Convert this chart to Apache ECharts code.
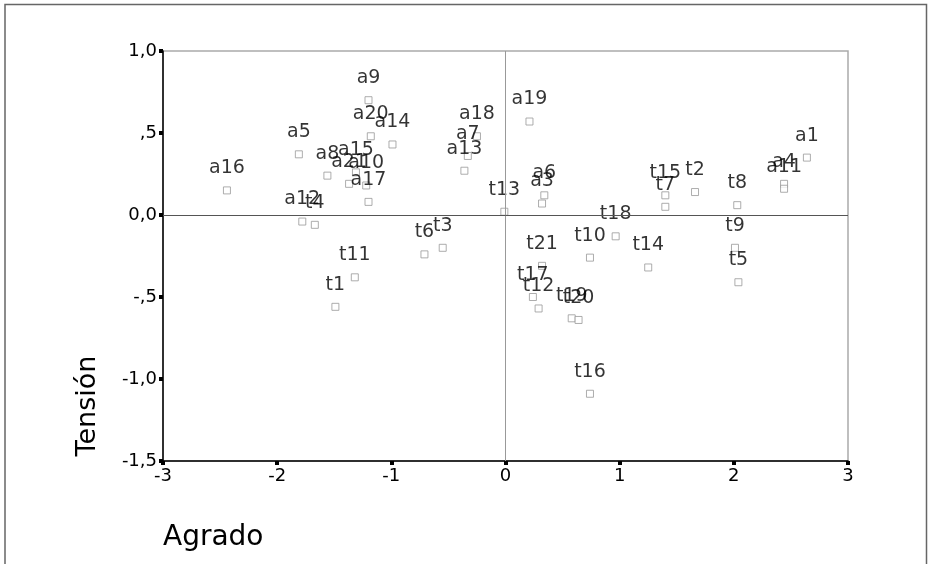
<!DOCTYPE html>
<html>
<head>
<meta charset="utf-8">
<script src="https://cdn.jsdelivr.net/npm/echarts@6/dist/echarts.min.js"></script>
<style>
  html, body { margin: 0; padding: 0; background: #fff; }
  #chart { width: 931px; height: 564px; }
</style>
</head>
<body>
<div id="chart"></div>
<script>
// Point labels and their coordinates (Agrado, Tensión)
const names = [
  'a1', 'a3', 'a4', 'a5', 'a6', 'a7', 'a8', 'a9', 'a10', 'a11',
  'a12', 'a13', 'a14', 'a15', 'a16', 'a17', 'a18', 'a19', 'a20', 'a21',
  't1', 't2', 't3', 't4', 't5', 't6', 't7', 't8', 't9', 't10',
  't11', 't12', 't13', 't14', 't15', 't16', 't17', 't18', 't19', 't20', 't21'
];
const agrado = [
  2.64, 0.32, 2.44, -1.81, 0.34, -0.33, -1.56, -1.20, -1.22, 2.44,
  -1.78, -0.36, -0.99, -1.31, -2.44, -1.20, -0.25, 0.21, -1.18, -1.37,
  -1.49, 1.66, -0.55, -1.67, 2.04, -0.71, 1.40, 2.03, 2.01, 0.74,
  -1.32, 0.29, -0.01, 1.25, 1.40, 0.74, 0.24, 0.965, 0.58, 0.64, 0.32
];
const tension = [
  0.35, 0.07, 0.19, 0.37, 0.12, 0.36, 0.24, 0.70, 0.18, 0.16,
  -0.04, 0.27, 0.43, 0.26, 0.15, 0.08, 0.48, 0.57, 0.48, 0.19,
  -0.56, 0.14, -0.20, -0.06, -0.41, -0.24, 0.05, 0.06, -0.20, -0.26,
  -0.38, -0.57, 0.02, -0.32, 0.12, -1.09, -0.50, -0.13, -0.63, -0.64, -0.31
];

// Tick text for the Tensión axis (comma decimals, leading zero dropped on halves)
const yTickText = { '1': '1,0', '0.5': ',5', '0': '0,0', '-0.5': '-,5', '-1': '-1,0', '-1.5': '-1,5' };

const points = names.map((n, i) => [agrado[i], tension[i], n]);

const FONT = 'DejaVu Sans';
const chart = echarts.init(document.getElementById('chart'), null, { renderer: 'canvas' });

chart.setOption({
  animation: false,
  backgroundColor: '#fff',
  grid: {
    left: 163, top: 51, width: 685, height: 410,
    show: true, borderColor: '#aaa', borderWidth: 1.5, backgroundColor: 'transparent'
  },
  xAxis: {
    type: 'value', min: -3, max: 3, interval: 1,
    axisLine: { show: true, onZero: false, lineStyle: { color: '#000', width: 1.5 } },
    axisTick: { show: true, length: 4, inside: false, lineStyle: { color: '#000', width: 4 } },
    axisLabel: { color: '#000', fontFamily: FONT, fontSize: 18, margin: 6 },
    splitLine: { show: false }
  },
  yAxis: {
    type: 'value', min: -1.5, max: 1, interval: 0.5,
    axisLine: { show: true, onZero: false, lineStyle: { color: '#000', width: 1.5 } },
    axisTick: { show: true, length: 4, inside: false, lineStyle: { color: '#000', width: 4 } },
    axisLabel: {
      color: '#000', fontFamily: FONT, fontSize: 18, margin: 6,
      formatter: v => yTickText[String(v)] ?? String(v)
    },
    splitLine: { show: false }
  },
  series: [{
    type: 'scatter',
    data: points,
    symbol: 'rect',
    symbolSize: 7,
    itemStyle: { color: '#fff', borderColor: '#999', borderWidth: 1 },
    label: {
      show: true,
      position: 'inside',
      offset: [0, -22],
      formatter: p => p.data[2],
      color: '#000',
      fontFamily: FONT,
      fontSize: 19
    },
    markLine: {
      silent: true,
      symbol: 'none',
      label: { show: false },
      animation: false,
      data: [
        { xAxis: 0, lineStyle: { color: '#999', width: 1, type: 'solid' } },
        { yAxis: 0, lineStyle: { color: '#555', width: 1, type: 'solid' } }
      ]
    },
    z: 3
  }],
  graphic: [
    {
      type: 'polyline', silent: true,
      shape: { points: [[5, 564], [5, 4.5], [926.5, 4.5], [926.5, 564]] },
      style: { stroke: '#666', lineWidth: 1.5, fill: null }
    },
    {
      type: 'text', silent: true,
      x: 88, y: 406, rotation: Math.PI / 2,
      style: {
        text: 'Tensión', fontFamily: FONT, fontSize: 27, fill: '#000',
        textAlign: 'center', textVerticalAlign: 'middle'
      }
    },
    {
      type: 'text', silent: true,
      x: 163, y: 538,
      style: {
        text: 'Agrado', fontFamily: FONT, fontSize: 28, fill: '#000',
        textAlign: 'left', textVerticalAlign: 'middle'
      }
    }
  ]
});
</script>
</body>
</html>
